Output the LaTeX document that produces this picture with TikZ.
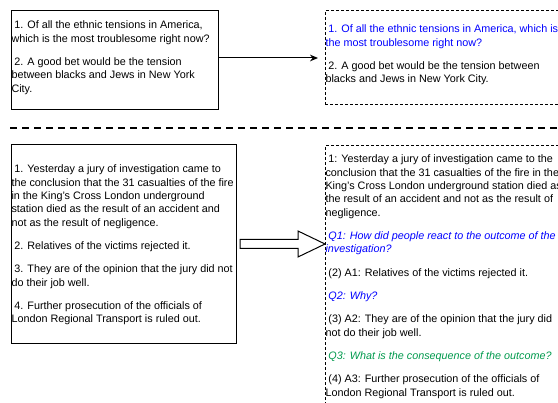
\documentclass[tikz,border=0pt]{standalone}
\usepackage{fontspec}
\setmainfont{Liberation Sans}
\usetikzlibrary{arrows.meta}

\definecolor{qblue}{RGB}{0,0,255}
\definecolor{qgreen}{RGB}{0,153,76}
\newcommand{\pin}{\hspace*{2.2pt}}

\begin{document}
\begin{tikzpicture}[x=0.75pt,y=0.75pt,yscale=-1,xscale=1,
  box/.style={draw, line width=0.75pt, inner sep=0pt, outer sep=0pt, anchor=north west},
  dashbox/.style={box, dash pattern=on 2.25pt off 1.5pt},
  txt/.style={anchor=north west, inner sep=0pt, outer sep=0pt, align=left, font=\fontsize{8.1}{10}\selectfont},
  arr/.style={line width=0.75pt, -{Stealth[length=6pt,width=5pt]}, shorten >=5.25pt},
  sep/.style={line width=1.5pt, dash pattern=on 5.25pt off 3.75pt}
]
\useasboundingbox (0,0) rectangle (558,403);

%Shape: Rectangle
\node [box, minimum width=155.25pt, minimum height=74.25pt] (q1) at (11,11) {};
%Shape: Rectangle
\node [dashbox, minimum width=183.75pt, minimum height=70.5pt] (a1) at (325,11) {};
%Shape: Rectangle
\node [box, minimum width=168.75pt, minimum height=148.5pt] (q2) at (11,145) {};
%Shape: Rectangle
\node [dashbox, minimum width=183.75pt, minimum height=205.5pt] (a2) at (325,146) {};

%Straight Lines
\draw [arr] (q1.east |- a1.west) -- (a1.west);
%Shape: Right Arrow
\coordinate (tip) at (a2.west |- q2.east);
\draw [line width=0.75pt] (tip) -- ++(-27,-13) -- ++(0,8.5) -- ++(-58,0) -- ++(0,9) -- ++(58,0) -- ++(0,8.5) -- cycle;
%Straight Lines
\draw [sep] (10,128) -- (558,128);

% Text Node
\node [txt] (tq1) at (11.5,21) {\pin 1. Of all the ethnic tensions in America,\\
which is the most troublesome right now?\\[7.5pt]
\pin 2. A good bet would be the tension\\
between blacks and Jews in New York\\
City.};
% Text Node
\node [txt] (ta1) at (325.5,25) {\textcolor{qblue}{\pin 1. Of all the ethnic tensions in America, which is}\\
\textcolor{qblue}{the most troublesome right now?}\\[7.5pt]
\pin 2. A good bet would be the tension between\\
blacks and Jews in New York City.};
% Text Node
\node [txt] (tq2) at (11.5,165) {\pin 1. Yesterday a jury of investigation came to\\
the conclusion that the 31 casualties of the fire\\
in the King's Cross London underground\\
station died as the result of an accident and\\
not as the result of negligence.\\[7.5pt]
\pin 2. Relatives of the victims rejected it.\\[7.5pt]
\pin 3. They are of the opinion that the jury did not\\
do their job well.\\[7.5pt]
\pin 4. Further prosecution of the officials of\\
London Regional Transport is ruled out.};
% Text Node
\node [txt] (ta2) at (325.5,155) {\pin 1: Yesterday a jury of investigation came to the\\
conclusion that the 31 casualties of the fire in the\\
King's Cross London underground station died as\\
the result of an accident and not as the result of\\
negligence.\\[7.5pt]
\textcolor{qblue}{\itshape\pin Q1: How did people react to the outcome of the}\\
\textcolor{qblue}{\itshape investigation?}\\[7.5pt]
\pin (2) A1: Relatives of the victims rejected it.\\[7.5pt]
\textcolor{qblue}{\itshape\pin Q2: Why?}\\[7.5pt]
\pin (3) A2: They are of the opinion that the jury did\\
not do their job well.\\[7.5pt]
\textcolor{qgreen}{\itshape\pin Q3: What is the consequence of the outcome?}\\[7.5pt]
\pin (4) A3: Further prosecution of the officials of\\
London Regional Transport is ruled out.};

\end{tikzpicture}
\end{document}
